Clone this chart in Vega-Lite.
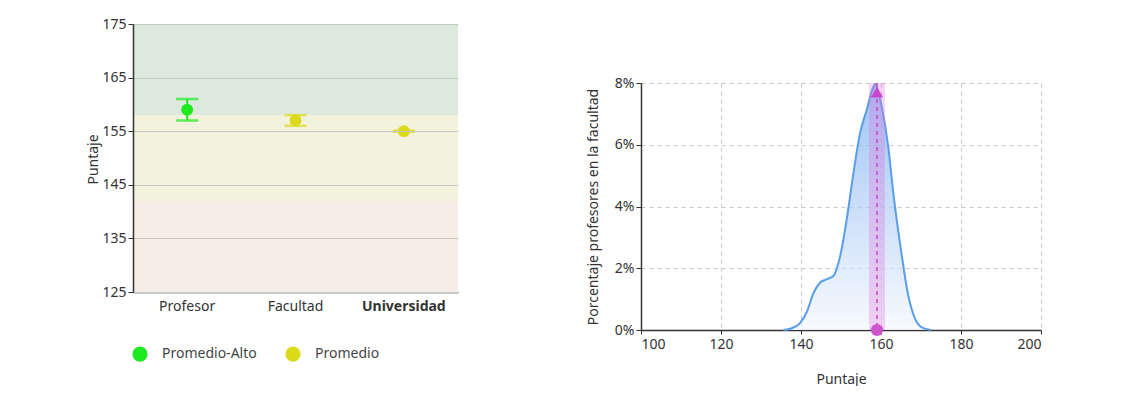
{
  "$schema": "https://vega.github.io/schema/vega-lite/v6.json",
  "padding": {"left": 86, "top": 17, "right": 0, "bottom": 0},
  "spacing": 128,
  "config": {
    "view": {"stroke": null},
    "font": "Noto Sans",
    "axis": {"labelFontSize": 14, "labelColor": "#333", "titleFontSize": 14, "titleColor": "#333", "titleFontWeight": "normal", "domainColor": "#333", "tickColor": "#333"}
  },
  "hconcat": [
    {
      "width": 325,
      "height": 268,
      "layer": [
        {
          "data": {"values": [
            {"desde": 158, "hasta": 175, "zona": "alta"},
            {"desde": 142, "hasta": 158, "zona": "media"},
            {"desde": 125, "hasta": 142, "zona": "baja"}
          ]},
          "mark": {"type": "rect"},
          "encoding": {
            "y": {"field": "desde", "type": "quantitative", "scale": {"domain": [125, 175]}},
            "y2": {"field": "hasta"},
            "fill": {"field": "zona", "type": "nominal", "scale": {"domain": ["alta", "media", "baja"], "range": ["#dde9dc", "#f3f2dc", "#f6ede6"]}, "legend": null}
          }
        },
        {
          "data": {"values": [
            {"grupo": "Profesor", "puntaje": 159, "bajo": 157, "alto": 161, "nivel": "Promedio-Alto"},
            {"grupo": "Facultad", "puntaje": 157, "bajo": 156, "alto": 158, "nivel": "Promedio"},
            {"grupo": "Universidad", "puntaje": 155, "bajo": 154.9, "alto": 155.1, "nivel": "Promedio"}
          ]},
          "encoding": {
            "x": {"field": "grupo", "type": "nominal", "sort": ["Profesor", "Facultad", "Universidad"], "scale": {"paddingInner": 0, "paddingOuter": 0},
              "axis": {"title": null, "labelAngle": 0, "labelPadding": 7, "ticks": false, "domainWidth": 1.5,
                "labelFontWeight": {"condition": {"test": "datum.value === 'Universidad'", "value": "bold"}, "value": "normal"}}},
            "color": {"field": "nivel", "type": "nominal", "scale": {"domain": ["Promedio-Alto", "Promedio"], "range": ["#1ee81e", "#dada18"]},
              "legend": {"title": null, "orient": "none", "legendX": -1, "legendY": 322, "direction": "horizontal", "symbolType": "circle", "symbolSize": 230, "labelFontSize": 14, "labelColor": "#444", "labelOffset": 14, "columnPadding": 28, "symbolStrokeWidth": 0, "symbolOpacity": 1}}
          },
          "layer": [
            {
              "mark": {"type": "rule", "strokeWidth": 2},
              "encoding": {
                "y": {"field": "bajo", "type": "quantitative", "scale": {"domain": [125, 175]},
                  "axis": {"title": "Puntaje", "values": [125, 135, 145, 155, 165, 175], "grid": true, "gridColor": "#c8c8c8", "zindex": 1, "tickSize": 5, "domainWidth": 1.5, "titleX": -33, "titleY": 135, "titleAngle": -90}},
                "y2": {"field": "alto"}
              }
            },
            {
              "mark": {"type": "tick", "orient": "horizontal", "size": 22, "thickness": 2.5},
              "encoding": {"y": {"field": "bajo", "type": "quantitative"}}
            },
            {
              "mark": {"type": "tick", "orient": "horizontal", "size": 22, "thickness": 2.5},
              "encoding": {"y": {"field": "alto", "type": "quantitative"}}
            },
            {
              "mark": {"type": "point", "filled": true, "size": 140, "opacity": 1},
              "encoding": {"y": {"field": "puntaje", "type": "quantitative"}}
            }
          ]
        }
      ]
    },
    {
      "spacing": 0,
      "vconcat": [
        {
          "width": 400,
          "height": 52,
          "data": {"values": [{}]},
          "mark": {"type": "point", "opacity": 0},
          "encoding": {}
        },
        {
          "width": 400,
          "height": 247,
          "layer": [
            {
              "data": {"values": [
                {"x": 135.6, "p": 0},
                {"x": 137.5, "p": 0.0005},
                {"x": 139.75, "p": 0.0022},
                {"x": 141.5, "p": 0.006},
                {"x": 143.1, "p": 0.0119},
                {"x": 144.75, "p": 0.0153},
                {"x": 146.5, "p": 0.0165},
                {"x": 148.1, "p": 0.0175},
                {"x": 149.75, "p": 0.0237},
                {"x": 151.4, "p": 0.0356},
                {"x": 153.1, "p": 0.0507},
                {"x": 154.75, "p": 0.0637},
                {"x": 156.4, "p": 0.0712},
                {"x": 158.1, "p": 0.0787},
                {"x": 158.6, "p": 0.0797},
                {"x": 160.0, "p": 0.0734},
                {"x": 161.7, "p": 0.0604},
                {"x": 163.3, "p": 0.042},
                {"x": 165.0, "p": 0.0259},
                {"x": 166.7, "p": 0.0119},
                {"x": 168.3, "p": 0.0043},
                {"x": 170.0, "p": 0.001},
                {"x": 172.5, "p": 0}
              ]},
              "mark": {"type": "area", "interpolate": "monotone",
                "fill": {"gradient": "linear", "x1": 0, "y1": 0, "x2": 0, "y2": 1, "stops": [{"offset": 0, "color": "#74a9f0"}, {"offset": 1, "color": "#f4f8fe"}]},
                "line": {"color": "#5b9ee8", "strokeWidth": 2}},
              "encoding": {
                "x": {"field": "x", "type": "quantitative", "scale": {"domain": [100, 200]},
                  "axis": {"title": "Puntaje", "values": [100, 120, 140, 160, 180, 200], "grid": true, "gridDash": [4, 4], "gridColor": "#c8c8c8", "tickSize": 4, "domainWidth": 1.5, "titlePadding": 21, "labelPadding": 3}},
                "y": {"field": "p", "type": "quantitative", "scale": {"domain": [0, 0.08]},
                  "axis": {"title": "Porcentaje profesores en la facultad", "values": [0, 0.02, 0.04, 0.06, 0.08], "format": ".0%", "grid": true, "gridDash": [4, 4], "gridColor": "#c8c8c8", "tickSize": 5, "domainWidth": 1.5, "titlePadding": 14, "labelPadding": 2}}
              }
            },
            {
              "data": {"values": [{"desde": 157, "hasta": 161}]},
              "mark": {"type": "rect", "color": "#e070dc", "opacity": 0.3},
              "encoding": {
                "x": {"field": "desde", "type": "quantitative"},
                "x2": {"field": "hasta"}
              }
            },
            {
              "data": {"values": [{"media": 159, "base": 0, "tope": 0.077}]},
              "layer": [
                {
                  "mark": {"type": "rule", "color": "#cc44cc", "strokeDash": [4, 4], "strokeWidth": 1.5},
                  "encoding": {"x": {"field": "media", "type": "quantitative"}}
                },
                {
                  "mark": {"type": "point", "filled": true, "color": "#cc55cc", "size": 150, "opacity": 1},
                  "encoding": {"x": {"field": "media", "type": "quantitative"}, "y": {"field": "base", "type": "quantitative"}}
                },
                {
                  "mark": {"type": "point", "shape": "triangle-up", "filled": true, "color": "#cc44cc", "size": 150, "opacity": 1},
                  "encoding": {"x": {"field": "media", "type": "quantitative"}, "y": {"field": "tope", "type": "quantitative"}}
                }
              ]
            }
          ]
        }
      ]
    }
  ]
}
